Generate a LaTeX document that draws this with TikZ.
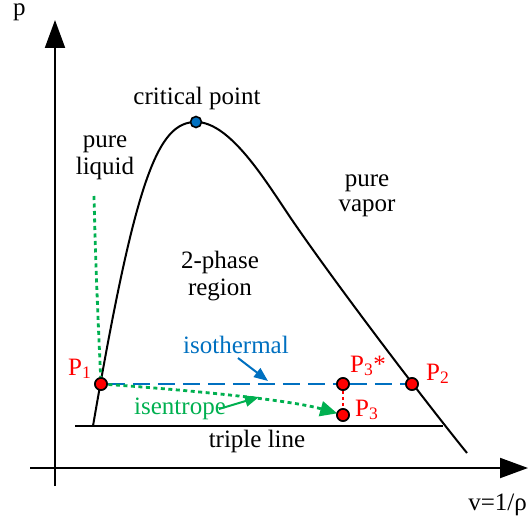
\documentclass[tikz,border=0pt]{standalone}
\usepackage{fontspec}
\setmainfont{Liberation Serif}
\usetikzlibrary{arrows.meta}
\definecolor{myred}{HTML}{FF0000}
\definecolor{myblue}{HTML}{0070C0}
\definecolor{mygreen}{HTML}{00B050}
\begin{document}
\begin{tikzpicture}[x=1pt,y=-1pt,
  every node/.style={font=\fontsize{25}{28}\selectfont, inner sep=0pt},
  axis/.style={line width=2pt, -{Triangle[length=28pt,width=20pt]}},
  pt/.style={circle, draw=black, line width=1.6pt, fill=myred, minimum size=12pt, inner sep=0pt},
  lbl/.style={text=myred, anchor=base west},
  greendot/.style={draw=mygreen, line width=2.8pt, dash pattern=on 4pt off 3.5pt},
  bluedash/.style={draw=myblue, line width=2.4pt, dash pattern=on 17pt off 8pt}]
\useasboundingbox (0,0) rectangle (528,519);
% axes
\coordinate (yb) at (55,486);
\coordinate (yt) at (55,20);
\coordinate (xl) at (30,468);
\coordinate (xr) at (528,468);
\draw[axis] (yb) -- (yt);
\draw[axis] (xl) -- (xr);
\node[anchor=base west, text height=12pt] (plab) at (13,16) {p};
\node[anchor=base east] (vlab) at (527,510) {v=1/ρ};
% triple line
\coordinate (tl) at (75,426);
\coordinate (tr) at (443,426);
\draw[line width=2pt] (tl) -- (tr);
\node[anchor=base] (triple) at (257,447) {triple line};
% saturation curve
\coordinate (c0) at (93,426);
\coordinate (cp) at (196,122);
\coordinate (cm) at (290,217);
\coordinate (c1) at (467,453);
\draw[line width=2pt] (c0) .. controls (136,176) and (158,122) .. (cp)
  .. controls (230,122) and (265,180) .. (cm)
  .. controls (330,276) and (420,395) .. (c1);
% region labels
\node[anchor=base] (crit) at (197,104) {critical point};
\node[anchor=base] (pl1) at (105,147) {pure};
\node[anchor=base] (pl2) at (105,174) {liquid};
\node[anchor=base] (pv1) at (367,186) {pure};
\node[anchor=base] (pv2) at (367,211) {vapor};
\node[anchor=base] (tp1) at (220,268) {2-phase};
\node[anchor=base] (tp2) at (220,295) {region};
% points
\node[pt, fill=myblue, minimum size=11pt] (C) at (cp) {};
\node[pt] (P1) at (101,384) {};
\node[pt] (P3s) at (343,384) {};
\node[pt] (P2) at (412,384) {};
\node[pt] (P3) at (343,415) {};
% isothermal
\draw[bluedash] (P1) -- (P3s);
\draw[bluedash] (P3s) -- (P2);
\node[anchor=base west, text=myblue] (iso) at (183,353) {isothermal};
\coordinate (isoa) at (238,358);
\coordinate (isob) at (268,381);
\draw[myblue, line width=2pt, -{Triangle[length=14pt,width=11pt]}] (isoa) -- (isob);
% red dotted
\draw[myred, line width=2pt, dash pattern=on 3pt off 3pt] (P3s) -- (P3);
% pure liquid dotted
\coordinate (liqtop) at (94,196);
\draw[greendot] (liqtop) .. controls (96,280) and (99,340) .. (P1.center);
% isentrope
\draw[greendot, shorten >=6pt, -{Triangle[length=17pt,width=15pt,fill=mygreen]}] (P1.center) .. controls (190,390) and (290,400) .. (P3.center);
\node[anchor=base west, text=mygreen] (isen) at (134,414) {isentrope};
\coordinate (isena) at (219,409);
\coordinate (isenb) at (259,397);
\draw[mygreen, line width=2pt, -{Triangle[length=14pt,width=11pt]}] (isena) -- (isenb);
% point labels
\node[lbl] (l1) at (68,375) {P\textsubscript{1}};
\node[lbl] (l3s) at (350,372) {P\textsubscript{3}*};
\node[lbl] (l2) at (426,380) {P\textsubscript{2}};
\node[lbl] (l3) at (355,416) {P\textsubscript{3}};
% redraw dots on top
\node[pt] at (P1) {};
\node[pt] at (P3s) {};
\node[pt] at (P2) {};
\node[pt] at (P3) {};
\end{tikzpicture}
\end{document}
